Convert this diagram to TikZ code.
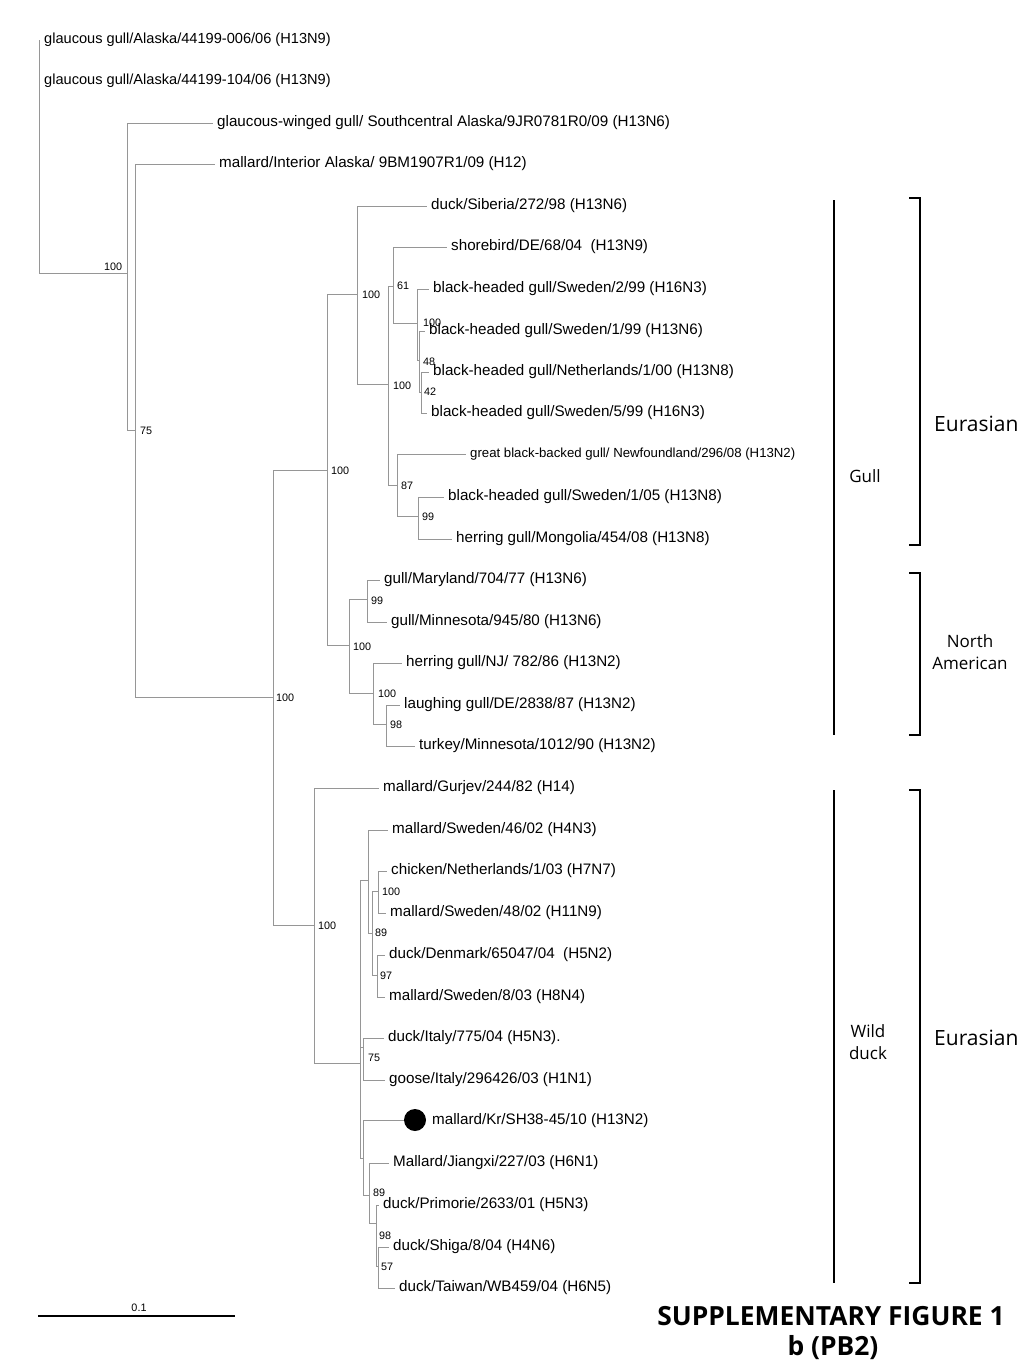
\documentclass[tikz,border=0pt]{standalone}
\usepackage{fontspec}
\setmainfont{Liberation Sans}
\newfontfamily\annfont{Open Sans}
\definecolor{treegray}{RGB}{150,150,150}
\begin{document}
\begin{tikzpicture}[x=1pt,y=-1pt,
  br/.style={draw=treegray,line width=0.9pt},
  lf/.style={anchor=west,inner xsep=4pt,inner ysep=0pt,font=\fontsize{15.2}{17}\selectfont},
  lfa/.style={anchor=west,inner xsep=4pt,inner ysep=0pt,font=\fontsize{14.6}{16}\selectfont},
  lfs/.style={anchor=west,inner xsep=4pt,inner ysep=0pt,font=\fontsize{13.2}{15}\selectfont},
  bs/.style={anchor=west,inner sep=0pt,font=\fontsize{10.8}{12}\selectfont},
  ann/.style={inner sep=0pt,align=center,font=\annfont\fontsize{17}{22.5}\selectfont},
  annbig/.style={inner sep=0pt,font=\annfont\fontsize{21}{24}\selectfont},
  ttl/.style={inner sep=0pt,font=\annfont\bfseries\fontsize{26.4}{30}\selectfont},
  bk/.style={draw=black,line width=1.2pt},
  dotm/.style={circle,fill=black,minimum size=22pt,inner sep=0pt}]
\fill[white] (0,0) rectangle (1024,1365);
\useasboundingbox (0,0) rectangle (1024,1365);

% leaves
\node[lfa] (l1) at (40,40) {glaucous gull/Alaska/44199-006/06 (H13N9)};
\node[lfa] (l2) at (40,81) {glaucous gull/Alaska/44199-104/06 (H13N9)};
\node[lf] (l3) at (213,123) {glaucous-winged gull/ Southcentral Alaska/9JR0781R0/09 (H13N6)};
\node[lf] (l4) at (215,164) {mallard/Interior Alaska/ 9BM1907R1/09 (H12)};
\node[lf] (l5) at (427,206) {duck/Siberia/272/98 (H13N6)};
\node[lf] (l6) at (447,247) {shorebird/DE/68/04\ \ (H13N9)};
\node[lf] (l7) at (429,289) {black-headed gull/Sweden/2/99 (H16N3)};
\node[lf] (l8) at (425,331) {black-headed gull/Sweden/1/99 (H13N6)};
\node[lf] (l9) at (429,372) {black-headed gull/Netherlands/1/00 (H13N8)};
\node[lf] (l10) at (427,413) {black-headed gull/Sweden/5/99 (H16N3)};
\node[lfs] (l11) at (466,454) {great black-backed gull/ Newfoundland/296/08 (H13N2)};
\node[lf] (l12) at (444,497) {black-headed gull/Sweden/1/05 (H13N8)};
\node[lf] (l13) at (452,539) {herring gull/Mongolia/454/08 (H13N8)};
\node[lf] (l14) at (380,580) {gull/Maryland/704/77 (H13N6)};
\node[lf] (l15) at (387,622) {gull/Minnesota/945/80 (H13N6)};
\node[lf] (l16) at (402,663) {herring gull/NJ/ 782/86 (H13N2)};
\node[lf] (l17) at (400,705) {laughing gull/DE/2838/87 (H13N2)};
\node[lf] (l18) at (415,746) {turkey/Minnesota/1012/90 (H13N2)};
\node[lf] (l19) at (379,788) {mallard/Gurjev/244/82 (H14)};
\node[lf] (l20) at (388,830) {mallard/Sweden/46/02 (H4N3)};
\node[lf] (l21) at (387,871) {chicken/Netherlands/1/03 (H7N7)};
\node[lf] (l22) at (386,913) {mallard/Sweden/48/02 (H11N9)};
\node[lf] (l23) at (385,955) {duck/Denmark/65047/04\ \ (H5N2)};
\node[lf] (l24) at (385,997) {mallard/Sweden/8/03 (H8N4)};
\node[lf] (l25) at (384,1038) {duck/Italy/775/04 (H5N3).};
\node[lf] (l26) at (385,1080) {goose/Italy/296426/03 (H1N1)};
\node[dotm] (dot) at (415,1120) {};
\node[lf] (l27) at (428,1121) {mallard/Kr/SH38-45/10 (H13N2)};
\node[lf] (l28) at (389,1163) {Mallard/Jiangxi/227/03 (H6N1)};
\node[lf] (l29) at (379,1205) {duck/Primorie/2633/01 (H5N3)};
\node[lf] (l30) at (389,1247) {duck/Shiga/8/04 (H4N6)};
\node[lf] (l31) at (395,1288) {duck/Taiwan/WB459/04 (H6N5)};

% internal nodes
\coordinate (root) at (39,273);
\coordinate (nA) at (127,273);
\coordinate (nB) at (135,430);
\coordinate (nC) at (273,697);
\coordinate (nD) at (327,470);
\coordinate (nF) at (357,294);
\coordinate (nM) at (388,384);
\coordinate (nN) at (393,286);
\coordinate (nP) at (417,323);
\coordinate (nQ) at (419,360);
\coordinate (nR) at (421,392);
\coordinate (nO) at (397,485);
\coordinate (nS) at (418,516);
\coordinate (nT) at (349,645);
\coordinate (nU) at (367,599);
\coordinate (nV) at (373,693);
\coordinate (nW) at (386,724);
\coordinate (nE) at (314,925);
\coordinate (nA2) at (360,1063);
\coordinate (nB2) at (368,880);
\coordinate (nK) at (372,933);
\coordinate (nC2) at (378,891);
\coordinate (nD2) at (377,975);
\coordinate (nE2) at (363,1047);
\coordinate (nG2) at (363,1158);
\coordinate (nH) at (369,1195);
\coordinate (nI) at (376,1223);
\coordinate (nJ) at (378,1266);

% branches
\draw[br] (root) |- (l1.west);
\draw[br] (root) |- (l2.west);
\draw[br] (root) |- (nA);
\draw[br] (nA) |- (l3.west);
\draw[br] (nA) |- (nB);
\draw[br] (nB) |- (l4.west);
\draw[br] (nB) |- (nC);
\draw[br] (nC) |- (nD);
\draw[br] (nC) |- (nE);
\draw[br] (nD) |- (nF);
\draw[br] (nD) |- (nT);
\draw[br] (nF) |- (l5.west);
\draw[br] (nF) |- (nM);
\draw[br] (nM) |- (nN);
\draw[br] (nM) |- (nO);
\draw[br] (nN) |- (l6.west);
\draw[br] (nN) |- (nP);
\draw[br] (nP) |- (l7.west);
\draw[br] (nP) |- (nQ);
\draw[br] (nQ) |- (l8.west);
\draw[br] (nQ) |- (nR);
\draw[br] (nR) |- (l9.west);
\draw[br] (nR) |- (l10.west);
\draw[br] (nO) |- (l11.west);
\draw[br] (nO) |- (nS);
\draw[br] (nS) |- (l12.west);
\draw[br] (nS) |- (l13.west);
\draw[br] (nT) |- (nU);
\draw[br] (nT) |- (nV);
\draw[br] (nU) |- (l14.west);
\draw[br] (nU) |- (l15.west);
\draw[br] (nV) |- (l16.west);
\draw[br] (nV) |- (nW);
\draw[br] (nW) |- (l17.west);
\draw[br] (nW) |- (l18.west);
\draw[br] (nE) |- (l19.west);
\draw[br] (nE) |- (nA2);
\draw[br] (nA2) |- (nB2);
\draw[br] (nA2) |- (nE2);
\draw[br] (nA2) |- (nG2);
\draw[br] (nB2) |- (l20.west);
\draw[br] (nB2) |- (nK);
\draw[br] (nK) |- (nC2);
\draw[br] (nK) |- (nD2);
\draw[br] (nC2) |- (l21.west);
\draw[br] (nC2) |- (l22.west);
\draw[br] (nD2) |- (l23.west);
\draw[br] (nD2) |- (l24.west);
\draw[br] (nE2) |- (l25.west);
\draw[br] (nE2) |- (l26.west);
\draw[br] (nG2) |- (dot.west);
\draw[br] (nG2) |- (nH);
\draw[br] (nH) |- (l28.west);
\draw[br] (nH) |- (nI);
\draw[br] (nI) |- (l29.west);
\draw[br] (nI) |- (nJ);
\draw[br] (nJ) |- (l30.west);
\draw[br] (nJ) |- (l31.west);

% bootstrap values
\node[bs] (b1) at (104,267) {100};
\node[bs] (b2) at (140,431) {75};
\node[bs] (b3) at (276,698) {100};
\node[bs] (b4) at (331,471) {100};
\node[bs] (b5) at (362,295) {100};
\node[bs] (b6) at (393,386) {100};
\node[bs] (b7) at (397,286) {61};
\node[bs] (b8) at (423,323) {100};
\node[bs] (b9) at (423,362) {48};
\node[bs] (b10) at (424,392) {42};
\node[bs] (b11) at (401,486) {87};
\node[bs] (b12) at (422,517) {99};
\node[bs] (b13) at (353,647) {100};
\node[bs] (b14) at (371,601) {99};
\node[bs] (b15) at (378,694) {100};
\node[bs] (b16) at (390,725) {98};
\node[bs] (b17) at (318,926) {100};
\node[bs] (b18) at (382,892) {100};
\node[bs] (b19) at (375,933) {89};
\node[bs] (b20) at (380,976) {97};
\node[bs] (b21) at (368,1058) {75};
\node[bs] (b22) at (373,1193) {89};
\node[bs] (b23) at (379,1236) {98};
\node[bs] (b24) at (381,1267) {57};

% group bars and brackets
\draw[bk] (834,200) -- (834,735);
\draw[bk] (834,790) -- (834,1283);
\draw[bk] (909,198) -- (920,198) -- (920,545) -- (909,545);
\draw[bk] (909,573) -- (920,573) -- (920,735) -- (909,735);
\draw[bk] (909,790) -- (920,790) -- (920,1283) -- (909,1283);
\node[ann] (gull) at (865,476) {Gull};
\node[ann] (wduck) at (868,1042) {Wild\\duck};
\node[ann] (namer) at (970,652) {North\\American};
\node[annbig,anchor=west] (eur1) at (934,424) {Eurasian};
\node[annbig,anchor=west] (eur2) at (934,1038) {Eurasian};

% scale bar
\coordinate (sb1) at (38,1316);
\coordinate (sb2) at (235,1316);
\draw[black,line width=1.4pt] (sb1) -- (sb2);
\node[bs,anchor=center] (sbl) at (139,1308) {0.1};

% title
\node[ttl] (t1) at (831,1316) {SUPPLEMENTARY FIGURE 1};
\node[ttl] (t2) at (833,1348) {b (PB2)};
\end{tikzpicture}
\end{document}
